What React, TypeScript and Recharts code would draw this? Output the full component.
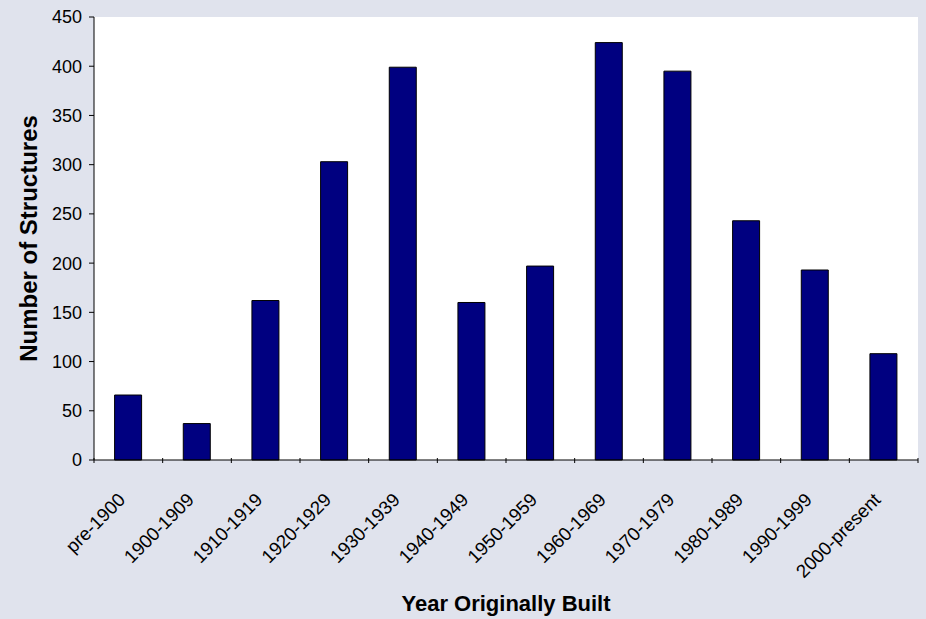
import { Bar, BarChart, CartesianGrid, Label, XAxis, YAxis } from "recharts";

const PERIODS = [
  "pre-1900",
  "1900-1909",
  "1910-1919",
  "1920-1929",
  "1930-1939",
  "1940-1949",
  "1950-1959",
  "1960-1969",
  "1970-1979",
  "1980-1989",
  "1990-1999",
  "2000-present",
];

const STRUCTURES = [66, 37, 162, 303, 399, 160, 197, 424, 395, 243, 193, 108];

const Y_TICKS = [0, 50, 100, 150, 200, 250, 300, 350, 400, 450];

const FONT = '"Liberation Sans", Arial, sans-serif';
const BG = "#E0E3ED";

const data = PERIODS.map((period, i) => ({ period, count: STRUCTURES[i] }));

function PeriodTick(props: any) {
  const { x, y, payload, index } = props;
  const half = payload?.offset ?? 824 / 24;
  const tx = x - 2;
  const ty = y + 35;
  return (
    <g>
      <line x1={x - half} y1={y - 8} x2={x - half} y2={y - 3} stroke="#000" />
      {index === PERIODS.length - 1 && (
        <line x1={x + half} y1={y - 8} x2={x + half} y2={y - 3} stroke="#000" />
      )}
      <text
        x={tx}
        y={ty}
        transform={`rotate(-45, ${tx}, ${ty})`}
        textAnchor="end"
        fontSize={18.7}
        fontFamily={FONT}
        fill="#000"
      >
        {payload.value}
      </text>
    </g>
  );
}

export default function App() {
  return (
    <div style={{ width: 926, height: 619, background: BG }}>
      <style>{"body{margin:0}"}</style>
      <BarChart
        width={926}
        height={619}
        data={data}
        margin={{ top: 17, right: 8, bottom: 0, left: 0 }}
        barCategoryGap="30%"
      >
        <CartesianGrid horizontal={false} vertical={false} fill="#fff" />
        <XAxis
          dataKey="period"
          height={159}
          axisLine={{ stroke: "#000" }}
          tickLine={false}
          tickMargin={0}
          interval={0}
          tick={<PeriodTick />}
        >
          <Label
            content={({ viewBox }: any) => (
              <text
                x={viewBox.x + viewBox.width / 2}
                y={viewBox.y + 151}
                textAnchor="middle"
                fontSize={22}
                fontWeight="bold"
                fontFamily={FONT}
                fill="#000"
              >
                Year Originally Built
              </text>
            )}
          />
        </XAxis>
        <XAxis
          xAxisId="top"
          orientation="top"
          dataKey="period"
          height={0}
          tick={false}
          tickLine={false}
          axisLine={{ stroke: "#808080", strokeWidth: 1.5 }}
        />
        <YAxis
          width={94}
          domain={[0, 450]}
          ticks={Y_TICKS}
          interval={0}
          tickSize={5}
          tickMargin={7}
          axisLine={{ stroke: "#000" }}
          tickLine={{ stroke: "#000" }}
          tick={{ fontSize: 18, fontFamily: FONT, fill: "#000" }}
        >
          <Label
            content={({ viewBox }: any) => {
              const cx = 37;
              const cy = viewBox.y + viewBox.height / 2;
              return (
                <text
                  x={cx}
                  y={cy}
                  transform={`rotate(-90, ${cx}, ${cy})`}
                  textAnchor="middle"
                  fontSize={24}
                  fontWeight="bold"
                  fontFamily={FONT}
                  fill="#000"
                >
                  Number of Structures
                </text>
              );
            }}
          />
        </YAxis>
        <YAxis
          yAxisId="right"
          orientation="right"
          width={0}
          domain={[0, 450]}
          tick={false}
          tickLine={false}
          axisLine={{ stroke: "#808080", strokeWidth: 2 }}
        />
        <Bar
          dataKey="count"
          fill="#000080"
          stroke="#000"
          strokeWidth={1}
          isAnimationActive={false}
        />
      </BarChart>
    </div>
  );
}
